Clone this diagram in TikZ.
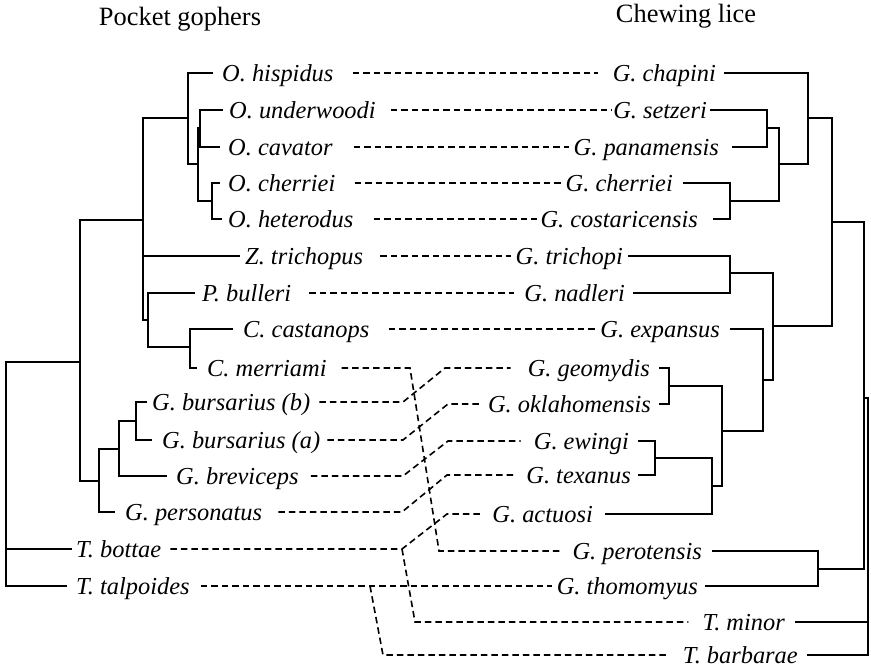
\documentclass[tikz,border=0pt]{standalone}
\usepackage{fontspec}
\setmainfont{Liberation Serif}
\begin{document}
\begin{tikzpicture}[x=1bp,y=-1bp,
  lab/.style={inner sep=0pt, font=\fontsize{24.5}{29}\selectfont\itshape, text height=16.2bp, text depth=0pt},
  gl/.style={lab, anchor=west},
  ll/.style={lab, anchor=east},
  hdr/.style={inner sep=0pt, font=\fontsize{26.5}{31}\selectfont, text height=17.5bp, text depth=0pt},
  branch/.style={line width=1.8bp},
  link/.style={line width=1.6bp, dash pattern=on 6.5bp off 4bp},
]
\useasboundingbox (0,0) rectangle (871,669);

% headers
\node[hdr] (h1) at (180,17) {Pocket gophers};
\node[hdr] (h2) at (686,13.5) {Chewing lice};

% gopher labels
\node[gl] (g1) at (222,73) {O. hispidus};
\node[gl] (g2) at (229,110) {O. underwoodi};
\node[gl] (g3) at (228,147) {O. cavator};
\node[gl] (g4) at (228,183) {O. cherriei};
\node[gl] (g5) at (228,219) {O. heterodus};
\node[gl] (g6) at (245,256) {Z. trichopus};
\node[gl] (g7) at (202,293) {P. bulleri};
\node[gl] (g8) at (243,329) {C. castanops};
\node[gl] (g9) at (207,368) {C. merriami};
\node[gl] (g10) at (152,402) {G. bursarius (b)};
\node[gl] (g11) at (162,440) {G. bursarius (a)};
\node[gl] (g12) at (176,476) {G. breviceps};
\node[gl] (g13) at (125,512) {G. personatus};
\node[gl] (g14) at (76,549) {T. bottae};
\node[gl] (g15) at (76,586) {T. talpoides};

% lice labels
\node[ll] (l1) at (716,73) {G. chapini};
\node[ll] (l2) at (707,110) {G. setzeri};
\node[ll] (l3) at (719,147) {G. panamensis};
\node[ll] (l4) at (673,183) {G. cherriei};
\node[ll] (l5) at (698,219) {G. costaricensis};
\node[ll] (l6) at (623,256) {G. trichopi};
\node[ll] (l7) at (625,293) {G. nadleri};
\node[ll] (l8) at (720,329) {G. expansus};
\node[ll] (l9) at (650,368) {G. geomydis};
\node[ll] (l10) at (651,404) {G. oklahomensis};
\node[ll] (l11) at (629,441) {G. ewingi};
\node[ll] (l12) at (631,475) {G. texanus};
\node[ll] (l13) at (593,514) {G. actuosi};
\node[ll] (l14) at (702,551) {G. perotensis};
\node[ll] (l15) at (698,586) {G. thomomyus};
\node[ll] (l16) at (785,622) {T. minor};
\node[ll] (l17) at (798,655) {T. barbarae};

% gopher tree
\coordinate (nO1) at (200,128);
\coordinate (nO2) at (212,201);
\coordinate (nO3) at (198,164);
\coordinate (nO4) at (188,118);
\coordinate (nA) at (143,220);
\coordinate (nP) at (148,320);
\coordinate (nC) at (190,347);
\coordinate (nG3) at (136,421);
\coordinate (nG2) at (119,449);
\coordinate (nG1) at (99,481);
\coordinate (nB) at (80,362);
\coordinate (nR) at (6,470);

\draw[branch] ([xshift=-6bp]g2.west) -| (nO1) |- ([xshift=-8bp]g3.west);
\draw[branch] ([xshift=-8bp]g4.west) -| (nO2) |- ([xshift=-6bp]g5.west);
\draw[branch] (nO1) -| (nO3) |- (nO2);
\draw[branch] ([xshift=-9bp]g1.west) -| (nO4) |- (nO3);
\draw[branch] (nO4) -| (nA) |- (nP);
\draw[branch] (nA |- g6) -- ([xshift=-5bp]g6.west);
\draw[branch] ([xshift=-7bp]g7.west) -| (nP) |- (nC);
\draw[branch] ([xshift=-10bp]g8.west) -| (nC) |- ([xshift=-10bp]g9.west);
\draw[branch] ([xshift=-5bp]g10.west) -| (nG3) |- ([xshift=-10bp]g11.west);
\draw[branch] (nG3) -| (nG2) |- ([xshift=-9bp]g12.west);
\draw[branch] (nG2) -| (nG1) |- ([xshift=-10bp]g13.west);
\draw[branch] (nA) -| (nB) |- (nG1);
\draw[branch] (nB) -| (nR) |- ([xshift=-9bp]g15.west);
\draw[branch] (nR |- g14) -- ([xshift=-4bp]g14.west);

% lice tree
\coordinate (m1) at (767,128);
\coordinate (m2) at (730,201);
\coordinate (m3) at (779,164);
\coordinate (m4) at (808,118);
\coordinate (m5) at (730,273);
\coordinate (k1) at (669,386);
\coordinate (k2) at (655,458);
\coordinate (k3) at (712,486);
\coordinate (k4) at (722,431);
\coordinate (k5) at (763,380);
\coordinate (m6) at (773,326);
\coordinate (m7) at (832,222);
\coordinate (p1) at (818,569);
\coordinate (m8) at (864,398);
\coordinate (mR) at (868,528);

\draw[branch] ([xshift=3bp]l2.east) -| (m1) |- ([xshift=13bp]l3.east);
\draw[branch] ([xshift=10bp]l4.east) -| (m2) |- ([xshift=15bp]l5.east);
\draw[branch] (m1) -| (m3) |- (m2);
\draw[branch] ([xshift=8bp]l1.east) -| (m4) |- (m3);
\draw[branch] (m4) -| (m7) |- (m6);
\draw[branch] ([xshift=5bp]l6.east) -| (m5) |- ([xshift=8bp]l7.east);
\draw[branch] (m5) -| (m6) |- (k5);
\draw[branch] ([xshift=10bp]l8.east) -| (k5) |- (k4);
\draw[branch] ([xshift=9bp]l9.east) -| (k1) |- ([xshift=8bp]l10.east);
\draw[branch] (k1) -| (k4) |- (k3);
\draw[branch] ([xshift=9bp]l11.east) -| (k2) |- ([xshift=7bp]l12.east);
\draw[branch] (k2) -| (k3) |- ([xshift=12bp]l13.east);
\draw[branch] ([xshift=10bp]l14.east) -| (p1) |- ([xshift=7bp]l15.east);
\draw[branch] (m7) -| (m8) |- (p1);
\draw[branch] (m8) -| (mR) |- ([xshift=9bp]l17.east);
\draw[branch] (mR |- l16) -- ([xshift=10bp]l16.east);

% associations (dashed)
\draw[link] ([xshift=19bp]g1.east) -- ([xshift=-15bp]l1.west);
\draw[link] ([xshift=15bp]g2.east) -- ([xshift=-1bp]l2.west);
\draw[link] ([xshift=21bp]g3.east) -- ([xshift=-5bp]l3.west);
\draw[link] ([xshift=19bp]g4.east) -- ([xshift=-5bp]l4.west);
\draw[link] ([xshift=20bp]g5.east) -- ([xshift=-3bp]l5.west);
\draw[link] ([xshift=17bp]g6.east) -- ([xshift=-4bp]l6.west);
\draw[link] ([xshift=18bp]g7.east) -- ([xshift=-10bp]l7.west);
\draw[link] ([xshift=19bp]g8.east) -- ([xshift=-5bp]l8.west);

\coordinate (d9a) at (410,368);
\coordinate (d9b) at (439,551);
\coordinate (d10a) at (403,402);
\coordinate (d10b) at (445,368);
\coordinate (d11a) at (403,440);
\coordinate (d11b) at (448,404);
\coordinate (d12a) at (403,476);
\coordinate (d12b) at (448,441);
\coordinate (d13a) at (402,512);
\coordinate (d13b) at (447,475);
\coordinate (d14a) at (402,549);
\coordinate (d14b) at (447,514);
\coordinate (d14c) at (415,622);
\coordinate (d15a) at (370,586);
\coordinate (d15b) at (383,655);

\draw[link] ([xshift=15bp]g9.east) -- (d9a) -- (d9b) -- ([xshift=-13bp]l14.west);
\draw[link] ([xshift=9bp]g10.east) -- (d10a) -- (d10b) -- ([xshift=-17bp]l9.west);
\draw[link] ([xshift=7bp]g11.east) -- (d11a) -- (d11b) -- ([xshift=-8bp]l10.west);
\draw[link] ([xshift=12bp]g12.east) -- (d12a) -- (d12b) -- ([xshift=-13bp]l11.west);
\draw[link] ([xshift=16bp]g13.east) -- (d13a) -- (d13b) -- ([xshift=-11bp]l12.west);
\draw[link] ([xshift=9bp]g14.east) -- (d14a) -- (d14b) -- ([xshift=-9bp]l13.west);
\draw[link] (d14a) -- (d14c) -- ([xshift=-14bp]l16.west);
\draw[link] ([xshift=11bp]g15.east) -- ([xshift=-5bp]l15.west);
\draw[link] (d15a) -- (d15b) -- ([xshift=-13bp]l17.west);
\end{tikzpicture}
\end{document}
